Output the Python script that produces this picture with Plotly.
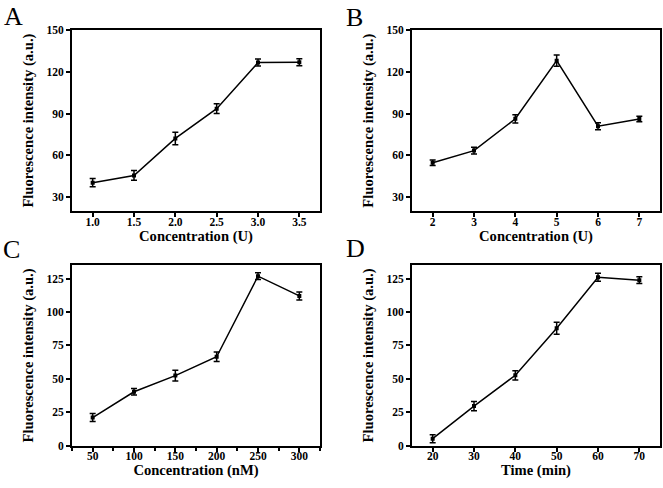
import plotly.graph_objects as go

# Panel A
a_x = [1.0, 1.5, 2.0, 2.5, 3.0, 3.5]
a_y = [40.3, 45.5, 72.2, 93.6, 126.8, 127.0]
a_err = [3.0, 3.5, 4.5, 3.5, 2.5, 2.5]
# Panel B
b_x = [2, 3, 4, 5, 6, 7]
b_y = [54.6, 63.4, 86.3, 128.2, 81.0, 86.2]
b_err = [2.0, 2.5, 3.0, 4.0, 2.5, 2.0]
# Panel C
c_x = [50, 100, 150, 200, 250, 300]
c_y = [21.0, 40.3, 52.4, 66.5, 126.8, 112.0]
c_err = [3.0, 2.5, 4.0, 3.5, 2.5, 3.0]
# Panel D
d_x = [20, 30, 40, 50, 60, 70]
d_y = [5.2, 29.6, 52.6, 87.8, 126.0, 123.8]
d_err = [3.0, 3.5, 3.5, 4.5, 3.0, 2.5]

W, H = 663, 488
FONT = "Liberation Serif"

def px_x(v):
    return v / W

def px_y(v):
    return 1 - v / H

panels = [
    dict(x=a_x, y=a_y, e=a_err, xd=(72, 320), yd=(25, 210), xr=[0.75, 3.75], yr=[20, 150],
         xt=a_x, xtt=["1.0", "1.5", "2.0", "2.5", "3.0", "3.5"], yt=[30, 60, 90, 120, 150],
         xtitle="Concentration (U)", minor=False),
    dict(x=b_x, y=b_y, e=b_err, xd=(412, 660), yd=(25, 210), xr=[1.5, 7.5], yr=[20, 150],
         xt=b_x, xtt=[str(v) for v in b_x], yt=[30, 60, 90, 120, 150],
         xtitle="Concentration (U)", minor=False),
    dict(x=c_x, y=c_y, e=c_err, xd=(72, 320), yd=(265.7, 450.7), xr=[25, 325], yr=[0, 135],
         xt=c_x, xtt=[str(v) for v in c_x], yt=[0, 25, 50, 75, 100, 125],
         xtitle="Concentration (nM)", minor=True),
    dict(x=d_x, y=d_y, e=d_err, xd=(412, 660), yd=(265.7, 450.7), xr=[15, 75], yr=[0, 135],
         xt=d_x, xtt=[str(v) for v in d_x], yt=[0, 25, 50, 75, 100, 125],
         xtitle="Time (min)", minor=False),
]

fig = go.Figure()
layout = {}
for i, p in enumerate(panels):
    n = "" if i == 0 else str(i + 1)
    fig.add_trace(go.Scatter(
        x=p["x"], y=p["y"], mode="lines+markers",
        line=dict(color="black", width=1.5),
        marker=dict(symbol="square", size=4, color="black"),
        error_y=dict(type="data", array=p["e"], color="black", thickness=1.5, width=3),
        xaxis="x" + n, yaxis="y" + n, showlegend=False,
    ))
    axcommon = dict(
        showline=True, linecolor="black", linewidth=2, mirror=True,
        ticks="outside", ticklen=4, tickwidth=1.5, tickcolor="black",
        showgrid=False, zeroline=False, fixedrange=True,
        tickfont=dict(family=FONT, size=11.5, color="black", weight="bold"),
    )
    xa = dict(axcommon, domain=[px_x(p["xd"][0]), px_x(p["xd"][1])], range=p["xr"],
              tickvals=p["xt"], ticktext=p["xtt"], anchor="y" + n,
              ticklabelstandoff=-5,
              title=dict(text=p["xtitle"], standoff=1,
                         font=dict(family=FONT, size=14.6, color="black", weight="bold")))
    if p["minor"]:
        xa["minor"] = dict(ticks="outside", ticklen=3, tickwidth=1.5, tickcolor="black",
                           dtick=50, tick0=25)
    ya = dict(axcommon, domain=[px_y(p["yd"][1]), px_y(p["yd"][0])], range=p["yr"],
              tickvals=p["yt"], anchor="x" + n,
              title=dict(text="Fluorescence intensity (a.u.)", standoff=9,
                         font=dict(family=FONT, size=14.6, color="black", weight="bold")))
    layout["xaxis" + n] = xa
    layout["yaxis" + n] = ya

letters = [("A", 2, -6), ("B", 344, -5), ("C", 1, 233), ("D", 344, 232)]
annotations = []
for t, lx, ly in letters:
    annotations.append(dict(text=t, x=px_x(lx), y=px_y(ly), xref="paper", yref="paper",
                            xanchor="left", yanchor="top", showarrow=False,
                            font=dict(family=FONT, size=26, color="black")))

fig.update_layout(
    width=W, height=H, margin=dict(l=0, r=0, t=0, b=0),
    paper_bgcolor="white", plot_bgcolor="white",
    annotations=annotations, **layout,
)
fig.write_html("out.html", config={"displayModeBar": False},
               post_script="document.body.style.margin='0';document.body.style.overflow='hidden';")
